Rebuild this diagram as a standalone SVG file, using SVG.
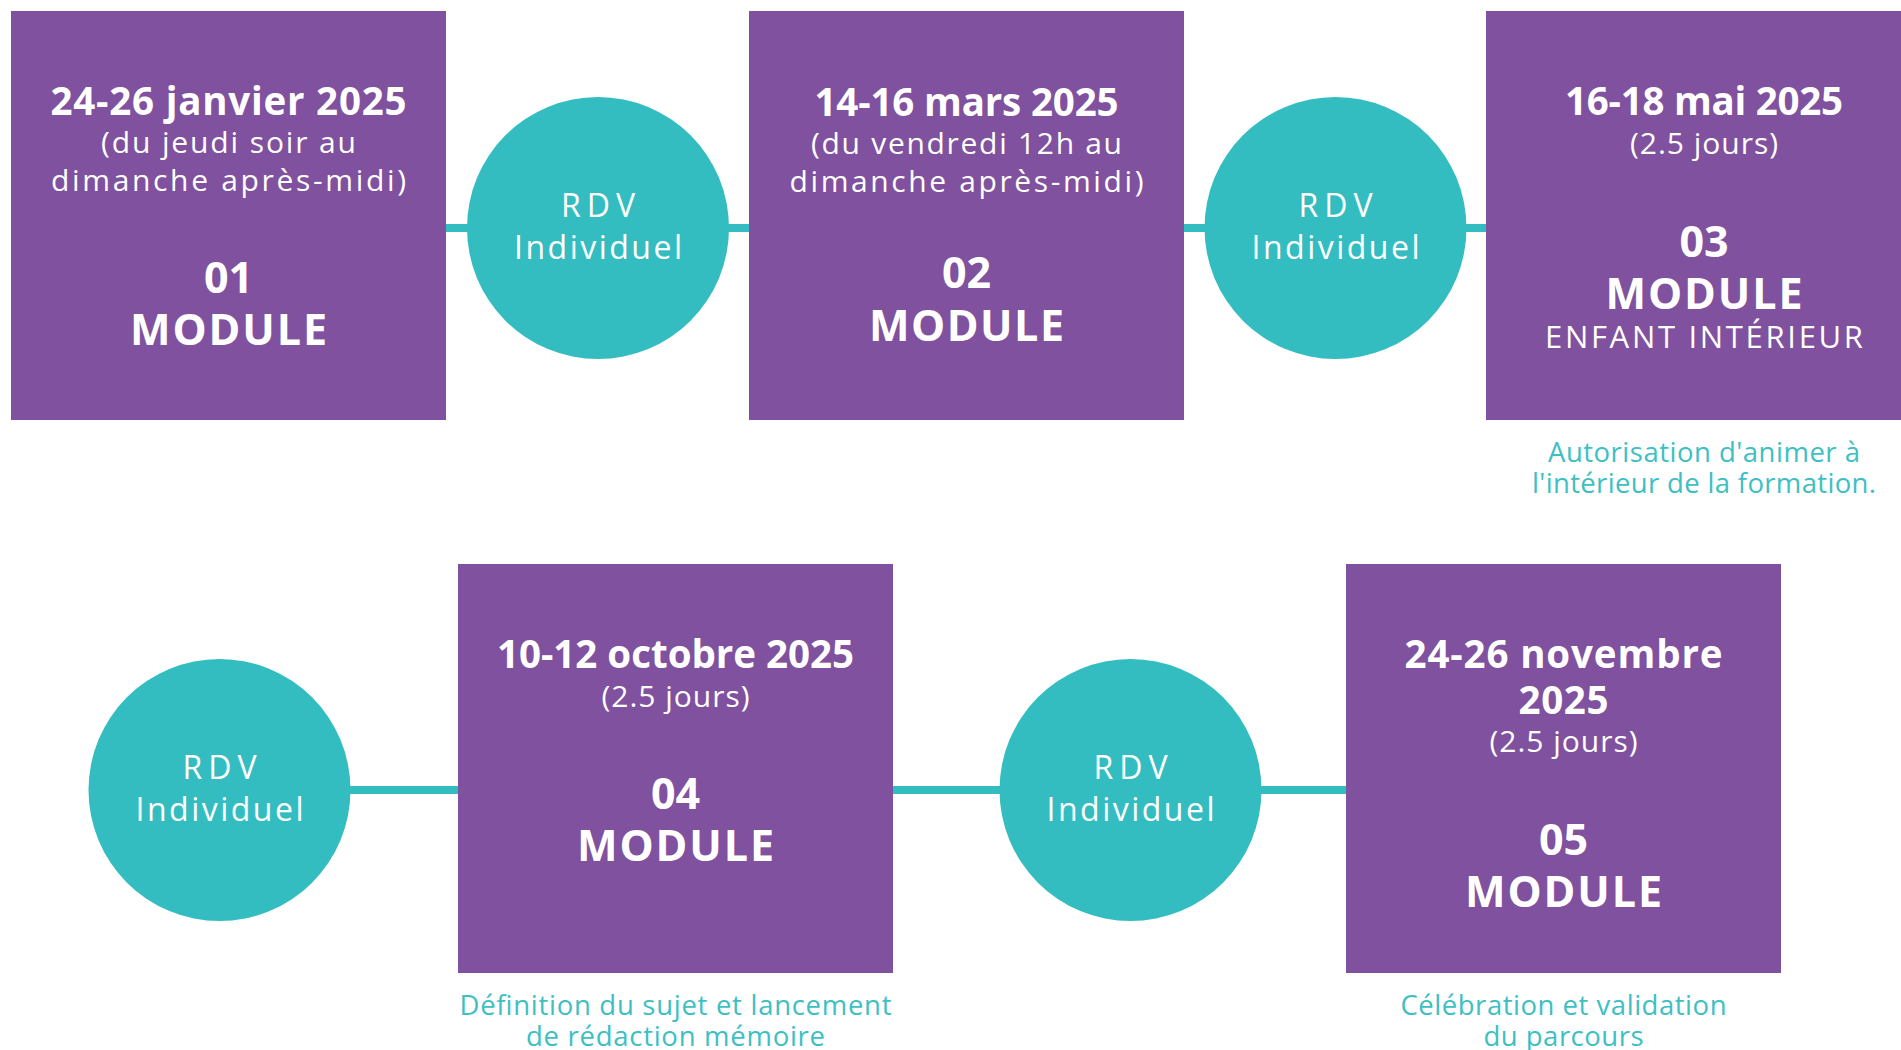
<svg xmlns="http://www.w3.org/2000/svg" width="1901" height="1050" viewBox="0 0 1901 1050">
<style>
.bg{fill:#ffffff}
.box{fill:#7f519e}
.rdv{fill:#33bdc1}
.conn{stroke:#33bdc1;stroke-width:8;fill:none}
text{font-family:"Open Sans","Noto Sans","Liberation Sans",sans-serif;text-anchor:middle;fill:#ffffff}
.b{font-size:38.5px;font-weight:700}
.s{font-size:30px;font-weight:400}
.m{font-size:43px;font-weight:700}
.e{font-size:31px;font-weight:400}
.r{font-size:32px;font-weight:400}
.c{font-size:27.5px;font-weight:400;fill:#3dbfc3}
</style>
<rect class="bg" x="0" y="0" width="1901" height="1050"/>
<g id="connectors">
<line class="conn" x1="446" y1="228" x2="749" y2="228"/>
<line class="conn" x1="1184" y1="228" x2="1486" y2="228"/>
<line class="conn" x1="340" y1="790" x2="458" y2="790"/>
<line class="conn" x1="893" y1="790" x2="1346" y2="790"/>
</g>
<g id="module01">
<rect class="box" x="11" y="11" width="435" height="409"/>
<text class="b" x="228.5" y="115" textLength="356" lengthAdjust="spacing">24-26 janvier 2025</text>
<text class="s" x="228.5" y="153" textLength="255" lengthAdjust="spacing">(du jeudi soir au</text>
<text class="s" x="228.5" y="191" textLength="355" lengthAdjust="spacing">dimanche après-midi)</text>
<text class="m" x="228.5" y="293">01</text>
<text class="m" x="228.5" y="345" textLength="197" lengthAdjust="spacing">MODULE</text>
</g>
<g id="rdv1">
<circle class="rdv" cx="598" cy="228" r="131"/>
<text class="r" x="598" y="217" textLength="74" lengthAdjust="spacing">RDV</text>
<text class="r" x="598" y="259" textLength="168" lengthAdjust="spacing">Individuel</text>
</g>
<g id="module02">
<rect class="box" x="749" y="11" width="435" height="409"/>
<text class="b" x="966.5" y="116" textLength="304" lengthAdjust="spacing">14-16 mars 2025</text>
<text class="s" x="966.5" y="154" textLength="311" lengthAdjust="spacing">(du vendredi 12h au</text>
<text class="s" x="966.5" y="191.5" textLength="354" lengthAdjust="spacing">dimanche après-midi)</text>
<text class="m" x="966.5" y="288">02</text>
<text class="m" x="966.5" y="341" textLength="195" lengthAdjust="spacing">MODULE</text>
</g>
<g id="rdv2">
<circle class="rdv" cx="1335.5" cy="228" r="131"/>
<text class="r" x="1335.5" y="217" textLength="74" lengthAdjust="spacing">RDV</text>
<text class="r" x="1335.5" y="259" textLength="168" lengthAdjust="spacing">Individuel</text>
</g>
<g id="module03">
<rect class="box" x="1486" y="11" width="435" height="409"/>
<text class="b" x="1704" y="115" textLength="278" lengthAdjust="spacing">16-18 mai 2025</text>
<text class="s" x="1704" y="154" textLength="148" lengthAdjust="spacing">(2.5 jours)</text>
<text class="m" x="1704" y="257">03</text>
<text class="m" x="1704" y="309" textLength="197" lengthAdjust="spacing">MODULE</text>
<text class="e" x="1704" y="348" textLength="318" lengthAdjust="spacing">ENFANT INTÉRIEUR</text>
<text class="c" x="1704" y="462" textLength="312" lengthAdjust="spacing">Autorisation d'animer à</text>
<text class="c" x="1704" y="493" textLength="344" lengthAdjust="spacing">l'intérieur de la formation.</text>
</g>
<g id="rdv3">
<circle class="rdv" cx="219.5" cy="790" r="131"/>
<text class="r" x="219.5" y="779" textLength="74" lengthAdjust="spacing">RDV</text>
<text class="r" x="219.5" y="821" textLength="168" lengthAdjust="spacing">Individuel</text>
</g>
<g id="module04">
<rect class="box" x="458" y="564" width="435" height="409"/>
<text class="b" x="675.5" y="668" textLength="357" lengthAdjust="spacing">10-12 octobre 2025</text>
<text class="s" x="675.5" y="707" textLength="148" lengthAdjust="spacing">(2.5 jours)</text>
<text class="m" x="675.5" y="809">04</text>
<text class="m" x="675.5" y="861" textLength="197" lengthAdjust="spacing">MODULE</text>
<text class="c" x="675.5" y="1015" textLength="432" lengthAdjust="spacing">Définition du sujet et lancement</text>
<text class="c" x="675.5" y="1046" textLength="299" lengthAdjust="spacing">de rédaction mémoire</text>
</g>
<g id="rdv4">
<circle class="rdv" cx="1130.5" cy="790" r="131"/>
<text class="r" x="1130.5" y="779" textLength="74" lengthAdjust="spacing">RDV</text>
<text class="r" x="1130.5" y="821" textLength="168" lengthAdjust="spacing">Individuel</text>
</g>
<g id="module05">
<rect class="box" x="1346" y="564" width="435" height="409"/>
<text class="b" x="1563.5" y="668" textLength="318" lengthAdjust="spacing">24-26 novembre</text>
<text class="b" x="1563.5" y="714" textLength="90" lengthAdjust="spacing">2025</text>
<text class="s" x="1563.5" y="752" textLength="148" lengthAdjust="spacing">(2.5 jours)</text>
<text class="m" x="1563.5" y="855">05</text>
<text class="m" x="1563.5" y="907" textLength="197" lengthAdjust="spacing">MODULE</text>
<text class="c" x="1563.5" y="1015" textLength="326" lengthAdjust="spacing">Célébration et validation</text>
<text class="c" x="1563.5" y="1046" textLength="160" lengthAdjust="spacing">du parcours</text>
</g>
</svg>
